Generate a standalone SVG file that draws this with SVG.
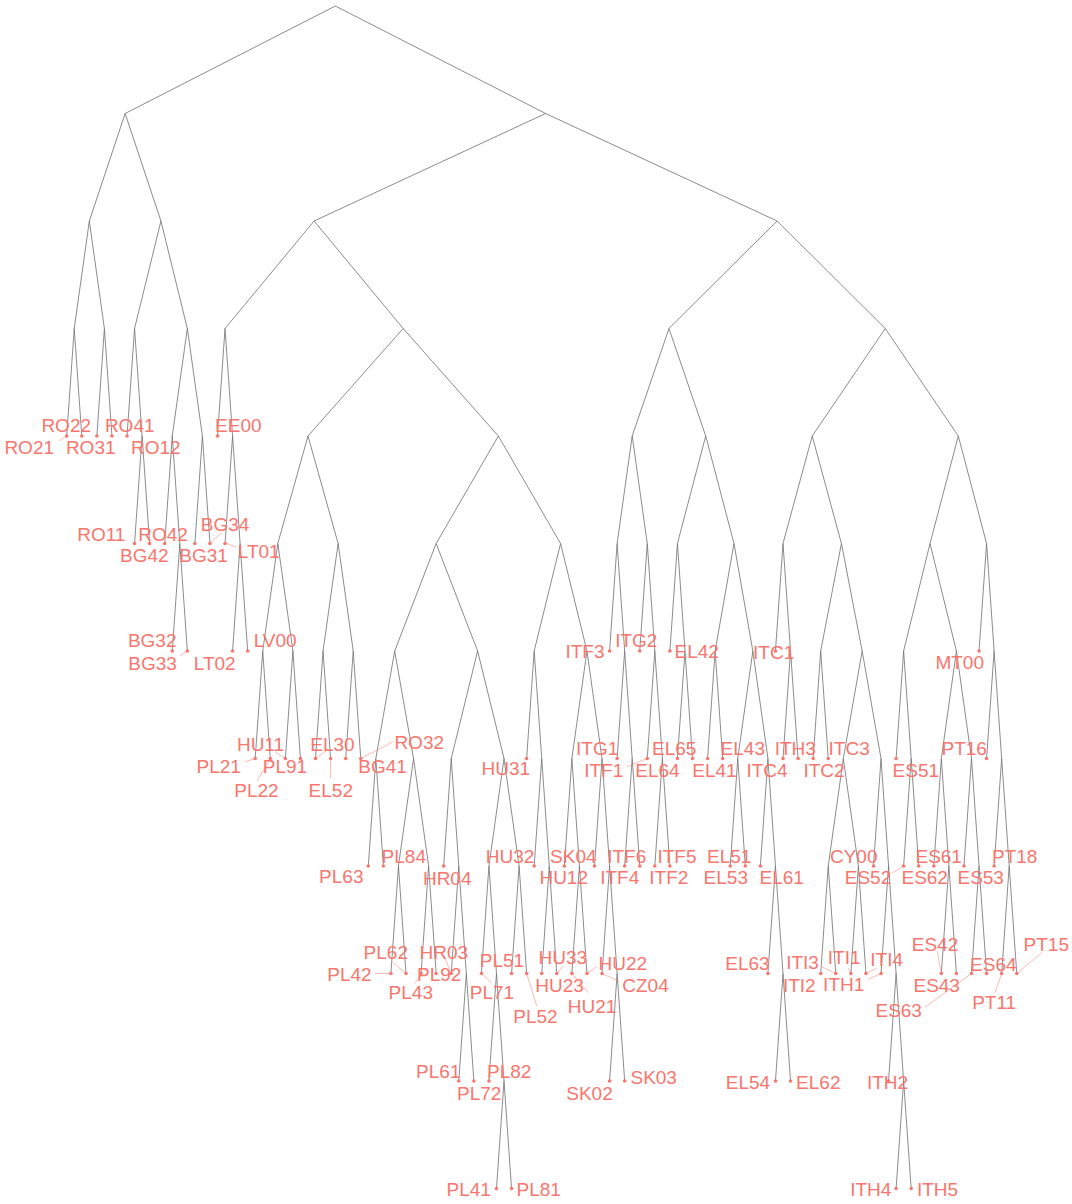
<svg xmlns="http://www.w3.org/2000/svg" width="1072" height="1204" viewBox="0 0 1072 1204">
<style>
.e{fill:none;stroke:#6e6e6e;stroke-width:0.8}
.d{fill:#F8766D}
.r{stroke:#F8766D;stroke-width:0.7;stroke-opacity:0.75;fill:none}
text{font-family:"Liberation Sans",Arial,sans-serif;font-size:19px;fill:#F8766D;text-anchor:middle}
</style>
<rect width="1072" height="1204" fill="#fff"/>
<g id="connectors">
<path class="e" d="M125.14 113.5L335.37 6L545.61 113.5"/>
<path class="e" d="M89.32 221L125.14 113.5L160.95 221"/>
<path class="e" d="M74.24 328.5L89.32 221L104.4 328.5"/>
<path class="e" d="M66.7 436L74.24 328.5L81.78 436"/>
<path class="e" d="M96.86 436L104.4 328.5L111.94 436"/>
<path class="e" d="M134.56 328.5L160.95 221L187.34 328.5"/>
<path class="e" d="M127.02 436L134.56 328.5L142.1 436"/>
<path class="e" d="M134.56 543.5L142.1 436L149.64 543.5"/>
<path class="e" d="M172.26 436L187.34 328.5L202.42 436"/>
<path class="e" d="M164.72 543.5L172.26 436L179.8 543.5"/>
<path class="e" d="M172.26 651L179.8 543.5L187.34 651"/>
<path class="e" d="M194.88 543.5L202.42 436L209.96 543.5"/>
<path class="e" d="M314.11 221L545.61 113.5L777.11 221"/>
<path class="e" d="M225.04 328.5L314.11 221L403.17 328.5"/>
<path class="e" d="M217.5 436L225.04 328.5L232.58 436"/>
<path class="e" d="M225.04 543.5L232.58 436L240.12 543.5"/>
<path class="e" d="M232.58 651L240.12 543.5L247.66 651"/>
<path class="e" d="M307.98 436L403.17 328.5L498.37 436"/>
<path class="e" d="M277.82 543.5L307.98 436L338.14 543.5"/>
<path class="e" d="M262.74 651L277.82 543.5L292.9 651"/>
<path class="e" d="M255.2 758.5L262.74 651L270.28 758.5"/>
<path class="e" d="M285.36 758.5L292.9 651L300.44 758.5"/>
<path class="e" d="M323.06 651L338.14 543.5L353.22 651"/>
<path class="e" d="M315.52 758.5L323.06 651L330.6 758.5"/>
<path class="e" d="M345.68 758.5L353.22 651L360.76 758.5"/>
<path class="e" d="M436.16 543.5L498.37 436L560.57 543.5"/>
<path class="e" d="M394.69 651L436.16 543.5L477.63 651"/>
<path class="e" d="M375.84 758.5L394.69 651L413.54 758.5"/>
<path class="e" d="M368.3 866L375.84 758.5L383.38 866"/>
<path class="e" d="M398.46 866L413.54 758.5L428.62 866"/>
<path class="e" d="M390.92 973.5L398.46 866L406 973.5"/>
<path class="e" d="M421.08 973.5L428.62 866L436.16 973.5"/>
<path class="e" d="M451.24 758.5L477.63 651L504.02 758.5"/>
<path class="e" d="M443.7 866L451.24 758.5L458.78 866"/>
<path class="e" d="M451.24 973.5L458.78 866L466.32 973.5"/>
<path class="e" d="M458.78 1081L466.32 973.5L473.86 1081"/>
<path class="e" d="M488.94 866L504.02 758.5L519.1 866"/>
<path class="e" d="M481.4 973.5L488.94 866L496.48 973.5"/>
<path class="e" d="M488.94 1081L496.48 973.5L504.02 1081"/>
<path class="e" d="M496.48 1188.5L504.02 1081L511.56 1188.5"/>
<path class="e" d="M511.56 973.5L519.1 866L526.64 973.5"/>
<path class="e" d="M534.18 651L560.57 543.5L586.96 651"/>
<path class="e" d="M526.64 758.5L534.18 651L541.72 758.5"/>
<path class="e" d="M534.18 866L541.72 758.5L549.26 866"/>
<path class="e" d="M541.72 973.5L549.26 866L556.8 973.5"/>
<path class="e" d="M571.88 758.5L586.96 651L602.04 758.5"/>
<path class="e" d="M564.34 866L571.88 758.5L579.42 866"/>
<path class="e" d="M571.88 973.5L579.42 866L586.96 973.5"/>
<path class="e" d="M594.5 866L602.04 758.5L609.58 866"/>
<path class="e" d="M602.04 973.5L609.58 866L617.12 973.5"/>
<path class="e" d="M609.58 1081L617.12 973.5L624.66 1081"/>
<path class="e" d="M668.96 328.5L777.11 221L885.26 328.5"/>
<path class="e" d="M632.2 436L668.96 328.5L705.72 436"/>
<path class="e" d="M617.12 543.5L632.2 436L647.28 543.5"/>
<path class="e" d="M609.58 651L617.12 543.5L624.66 651"/>
<path class="e" d="M617.12 758.5L624.66 651L632.2 758.5"/>
<path class="e" d="M624.66 866L632.2 758.5L639.74 866"/>
<path class="e" d="M639.74 651L647.28 543.5L654.82 651"/>
<path class="e" d="M647.28 758.5L654.82 651L662.36 758.5"/>
<path class="e" d="M654.82 866L662.36 758.5L669.9 866"/>
<path class="e" d="M677.44 543.5L705.72 436L733.99 543.5"/>
<path class="e" d="M669.9 651L677.44 543.5L684.98 651"/>
<path class="e" d="M677.44 758.5L684.98 651L692.52 758.5"/>
<path class="e" d="M715.14 651L733.99 543.5L752.84 651"/>
<path class="e" d="M707.6 758.5L715.14 651L722.68 758.5"/>
<path class="e" d="M737.76 758.5L752.84 651L767.92 758.5"/>
<path class="e" d="M730.22 866L737.76 758.5L745.3 866"/>
<path class="e" d="M760.38 866L767.92 758.5L775.46 866"/>
<path class="e" d="M767.92 973.5L775.46 866L783 973.5"/>
<path class="e" d="M775.46 1081L783 973.5L790.54 1081"/>
<path class="e" d="M812.22 436L885.26 328.5L958.31 436"/>
<path class="e" d="M783 543.5L812.22 436L841.44 543.5"/>
<path class="e" d="M775.46 651L783 543.5L790.54 651"/>
<path class="e" d="M783 758.5L790.54 651L798.08 758.5"/>
<path class="e" d="M820.7 651L841.44 543.5L862.17 651"/>
<path class="e" d="M813.16 758.5L820.7 651L828.24 758.5"/>
<path class="e" d="M843.32 758.5L862.17 651L881.02 758.5"/>
<path class="e" d="M828.24 866L843.32 758.5L858.4 866"/>
<path class="e" d="M820.7 973.5L828.24 866L835.78 973.5"/>
<path class="e" d="M850.86 973.5L858.4 866L865.94 973.5"/>
<path class="e" d="M873.48 866L881.02 758.5L888.56 866"/>
<path class="e" d="M881.02 973.5L888.56 866L896.1 973.5"/>
<path class="e" d="M888.56 1081L896.1 973.5L903.64 1081"/>
<path class="e" d="M896.1 1188.5L903.64 1081L911.18 1188.5"/>
<path class="e" d="M930.03 543.5L958.31 436L986.58 543.5"/>
<path class="e" d="M903.64 651L930.03 543.5L956.42 651"/>
<path class="e" d="M896.1 758.5L903.64 651L911.18 758.5"/>
<path class="e" d="M903.64 866L911.18 758.5L918.72 866"/>
<path class="e" d="M941.34 758.5L956.42 651L971.5 758.5"/>
<path class="e" d="M933.8 866L941.34 758.5L948.88 866"/>
<path class="e" d="M941.34 973.5L948.88 866L956.42 973.5"/>
<path class="e" d="M963.96 866L971.5 758.5L979.04 866"/>
<path class="e" d="M971.5 973.5L979.04 866L986.58 973.5"/>
<path class="e" d="M979.04 651L986.58 543.5L994.12 651"/>
<path class="e" d="M986.58 758.5L994.12 651L1001.66 758.5"/>
<path class="e" d="M994.12 866L1001.66 758.5L1009.2 866"/>
<path class="e" d="M1001.66 973.5L1009.2 866L1016.74 973.5"/>
</g>
<g id="RO21"><circle class="d" cx="66.7" cy="436" r="1.8"/><path class="r" d="M59.3 440.7L66.7 436"/><text x="29.2" y="453.8">RO21</text></g>
<g id="RO22"><circle class="d" cx="81.78" cy="436" r="1.8"/><text x="66.2" y="432.3">RO22</text></g>
<g id="RO31"><circle class="d" cx="96.86" cy="436" r="1.8"/><text x="90.7" y="453.8">RO31</text></g>
<g id="RO41"><circle class="d" cx="111.94" cy="436" r="1.8"/><text x="129.7" y="432.3">RO41</text></g>
<g id="RO12"><circle class="d" cx="127.02" cy="436" r="1.8"/><text x="155.8" y="453.8">RO12</text></g>
<g id="EE00"><circle class="d" cx="217.5" cy="436" r="1.8"/><text x="238.3" y="432.3">EE00</text></g>
<g id="RO11"><circle class="d" cx="134.56" cy="543.5" r="1.8"/><text x="101.3" y="540.5">RO11</text></g>
<g id="RO42"><circle class="d" cx="149.64" cy="543.5" r="1.8"/><text x="163" y="540.5">RO42</text></g>
<g id="BG42"><circle class="d" cx="164.72" cy="543.5" r="1.8"/><text x="144.3" y="562.3">BG42</text></g>
<g id="BG31"><circle class="d" cx="194.88" cy="543.5" r="1.8"/><text x="203.5" y="562.3">BG31</text></g>
<g id="BG34"><circle class="d" cx="209.96" cy="543.5" r="1.8"/><path class="r" d="M211 542L222 532.5"/><text x="225" y="530.5">BG34</text></g>
<g id="LT01"><circle class="d" cx="225.04" cy="543.5" r="1.8"/><path class="r" d="M226.5 543.5L236.7 547.3"/><text x="258.7" y="557.8">LT01</text></g>
<g id="BG32"><circle class="d" cx="172.26" cy="651" r="1.8"/><text x="152.2" y="647.1">BG32</text></g>
<g id="BG33"><circle class="d" cx="187.34" cy="651" r="1.8"/><path class="r" d="M180 655.7L187 651"/><text x="152.5" y="669.8">BG33</text></g>
<g id="LT02"><circle class="d" cx="232.58" cy="651" r="1.8"/><text x="214.7" y="669.8">LT02</text></g>
<g id="LV00"><circle class="d" cx="247.66" cy="651" r="1.8"/><text x="275.2" y="647.1">LV00</text></g>
<g id="PL21"><circle class="d" cx="255.2" cy="758.5" r="1.8"/><path class="r" d="M245 761.7L255.2 758.5"/><text x="218.7" y="772.8">PL21</text></g>
<g id="PL22"><circle class="d" cx="270.28" cy="758.5" r="1.8"/><path class="r" d="M257.3 780.7L270.28 758.5"/><text x="256.5" y="796.8">PL22</text></g>
<g id="HU11"><circle class="d" cx="285.36" cy="758.5" r="1.8"/><path class="r" d="M275 751.7L285.36 758.5"/><text x="260.5" y="750.6">HU11</text></g>
<g id="PL91"><circle class="d" cx="300.44" cy="758.5" r="1.8"/><text x="285" y="772.8">PL91</text></g>
<g id="EL30"><circle class="d" cx="315.52" cy="758.5" r="1.8"/><path class="r" d="M328.3 749.3L315.52 758.5"/><text x="332.5" y="750.6">EL30</text></g>
<g id="EL52"><circle class="d" cx="330.6" cy="758.5" r="1.8"/><path class="r" d="M330.6 760L330.6 778"/><text x="330.8" y="796.8">EL52</text></g>
<g id="BG41"><circle class="d" cx="345.68" cy="758.5" r="1.8"/><text x="382.5" y="772.8">BG41</text></g>
<g id="RO32"><circle class="d" cx="360.76" cy="758.5" r="1.8"/><path class="r" d="M393.3 741.7L360.76 758.5"/><text x="419.2" y="748.8">RO32</text></g>
<g id="PL63"><circle class="d" cx="368.3" cy="866" r="1.8"/><text x="341.3" y="883.1">PL63</text></g>
<g id="PL84"><circle class="d" cx="383.38" cy="866" r="1.8"/><text x="403.8" y="862.6">PL84</text></g>
<g id="PL42"><circle class="d" cx="390.92" cy="973.5" r="1.8"/><path class="r" d="M375 973.5L390.92 973.5"/><text x="349.5" y="981">PL42</text></g>
<g id="PL62"><circle class="d" cx="406" cy="973.5" r="1.8"/><path class="r" d="M393.3 962.7L406 973.5"/><text x="385.8" y="958.5">PL62</text></g>
<g id="PL43"><circle class="d" cx="421.08" cy="973.5" r="1.8"/><path class="r" d="M415 983.3L421.08 973.5"/><text x="410.8" y="999.3">PL43</text></g>
<g id="PL92"><circle class="d" cx="436.16" cy="973.5" r="1.8"/><text x="439.2" y="980.8">PL92</text></g>
<g id="HR04"><circle class="d" cx="443.7" cy="866" r="1.8"/><text x="447.2" y="885.3">HR04</text></g>
<g id="HR03"><circle class="d" cx="451.24" cy="973.5" r="1.8"/><path class="r" d="M445 958.3L451.24 973.5"/><text x="443.8" y="958.5">HR03</text></g>
<g id="PL61"><circle class="d" cx="458.78" cy="1081" r="1.8"/><text x="438.3" y="1077.6">PL61</text></g>
<g id="PL72"><circle class="d" cx="473.86" cy="1081" r="1.8"/><text x="479.2" y="1100.3">PL72</text></g>
<g id="PL71"><circle class="d" cx="481.4" cy="973.5" r="1.8"/><path class="r" d="M481.4 973.5L491.7 982.7"/><text x="492" y="999.3">PL71</text></g>
<g id="PL82"><circle class="d" cx="488.94" cy="1081" r="1.8"/><text x="509.2" y="1077.6">PL82</text></g>
<g id="PL41"><circle class="d" cx="496.48" cy="1188.5" r="1.8"/><text x="468.7" y="1196.3">PL41</text></g>
<g id="PL81"><circle class="d" cx="511.56" cy="1188.5" r="1.8"/><text x="538.7" y="1196.3">PL81</text></g>
<g id="PL51"><circle class="d" cx="511.56" cy="973.5" r="1.8"/><text x="502" y="966.8">PL51</text></g>
<g id="PL52"><circle class="d" cx="526.64" cy="973.5" r="1.8"/><path class="r" d="M526.64 973.5L536.7 1006"/><text x="535.5" y="1022.6">PL52</text></g>
<g id="HU31"><circle class="d" cx="526.64" cy="758.5" r="1.8"/><text x="505.8" y="774.8">HU31</text></g>
<g id="HU32"><circle class="d" cx="534.18" cy="866" r="1.8"/><text x="510" y="862.6">HU32</text></g>
<g id="HU23"><circle class="d" cx="541.72" cy="973.5" r="1.8"/><text x="559.5" y="991.8">HU23</text></g>
<g id="HU33"><circle class="d" cx="556.8" cy="973.5" r="1.8"/><path class="r" d="M563.3 966L556.8 973.5"/><text x="562.8" y="963.5">HU33</text></g>
<g id="HU12"><circle class="d" cx="564.34" cy="866" r="1.8"/><text x="563.7" y="884.3">HU12</text></g>
<g id="HU21"><circle class="d" cx="571.88" cy="973.5" r="1.8"/><path class="r" d="M571.88 973.5L588.3 992.7"/><text x="592" y="1012.8">HU21</text></g>
<g id="HU22"><circle class="d" cx="586.96" cy="973.5" r="1.8"/><path class="r" d="M596.7 966.7L586.96 973.5"/><text x="622.8" y="969.8">HU22</text></g>
<g id="SK04"><circle class="d" cx="594.5" cy="866" r="1.8"/><text x="573.3" y="862.6">SK04</text></g>
<g id="CZ04"><circle class="d" cx="602.04" cy="973.5" r="1.8"/><path class="r" d="M602.04 973.5L619.3 981.7"/><text x="645.5" y="991.8">CZ04</text></g>
<g id="SK02"><circle class="d" cx="609.58" cy="1081" r="1.8"/><text x="589.5" y="1100.3">SK02</text></g>
<g id="SK03"><circle class="d" cx="624.66" cy="1081" r="1.8"/><text x="653.7" y="1084.3">SK03</text></g>
<g id="ITF3"><circle class="d" cx="609.58" cy="651" r="1.8"/><text x="585" y="657.8">ITF3</text></g>
<g id="ITG1"><circle class="d" cx="617.12" cy="758.5" r="1.8"/><text x="597.2" y="755.3">ITG1</text></g>
<g id="ITF4"><circle class="d" cx="624.66" cy="866" r="1.8"/><text x="619.7" y="884.3">ITF4</text></g>
<g id="ITF6"><circle class="d" cx="639.74" cy="866" r="1.8"/><text x="626.7" y="862.6">ITF6</text></g>
<g id="ITG2"><circle class="d" cx="639.74" cy="651" r="1.8"/><text x="636.3" y="647.1">ITG2</text></g>
<g id="ITF1"><circle class="d" cx="647.28" cy="758.5" r="1.8"/><path class="r" d="M626.7 766.7L647.28 758.5"/><text x="603.7" y="776.8">ITF1</text></g>
<g id="ITF2"><circle class="d" cx="654.82" cy="866" r="1.8"/><text x="668.8" y="884.3">ITF2</text></g>
<g id="ITF5"><circle class="d" cx="669.9" cy="866" r="1.8"/><text x="677" y="862.6">ITF5</text></g>
<g id="EL42"><circle class="d" cx="669.9" cy="651" r="1.8"/><text x="696.7" y="658.3">EL42</text></g>
<g id="EL64"><circle class="d" cx="677.44" cy="758.5" r="1.8"/><text x="657.5" y="776.8">EL64</text></g>
<g id="EL65"><circle class="d" cx="692.52" cy="758.5" r="1.8"/><text x="674.2" y="754.8">EL65</text></g>
<g id="EL41"><circle class="d" cx="707.6" cy="758.5" r="1.8"/><text x="714.5" y="776.8">EL41</text></g>
<g id="EL43"><circle class="d" cx="722.68" cy="758.5" r="1.8"/><text x="742.8" y="755.1">EL43</text></g>
<g id="EL51"><circle class="d" cx="730.22" cy="866" r="1.8"/><text x="729.2" y="862.6">EL51</text></g>
<g id="EL53"><circle class="d" cx="745.3" cy="866" r="1.8"/><text x="725.8" y="884.3">EL53</text></g>
<g id="EL61"><circle class="d" cx="760.38" cy="866" r="1.8"/><text x="781.7" y="884.3">EL61</text></g>
<g id="EL63"><circle class="d" cx="767.92" cy="973.5" r="1.8"/><text x="747.5" y="969.8">EL63</text></g>
<g id="EL54"><circle class="d" cx="775.46" cy="1081" r="1.8"/><text x="748" y="1088.5">EL54</text></g>
<g id="EL62"><circle class="d" cx="790.54" cy="1081" r="1.8"/><text x="818.3" y="1088.5">EL62</text></g>
<g id="ITC1"><circle class="d" cx="775.46" cy="651" r="1.8"/><text x="773.7" y="658.8">ITC1</text></g>
<g id="ITC4"><circle class="d" cx="783" cy="758.5" r="1.8"/><text x="767" y="776.8">ITC4</text></g>
<g id="ITH3"><circle class="d" cx="798.08" cy="758.5" r="1.8"/><text x="795.3" y="755.1">ITH3</text></g>
<g id="ITC2"><circle class="d" cx="813.16" cy="758.5" r="1.8"/><text x="824" y="776.8">ITC2</text></g>
<g id="ITC3"><circle class="d" cx="828.24" cy="758.5" r="1.8"/><text x="849.2" y="755.1">ITC3</text></g>
<g id="ITI2"><circle class="d" cx="820.7" cy="973.5" r="1.8"/><text x="799.3" y="991.8">ITI2</text></g>
<g id="ITI3"><circle class="d" cx="835.78" cy="973.5" r="1.8"/><path class="r" d="M821.7 966.7L835.78 973.5"/><text x="802.5" y="969">ITI3</text></g>
<g id="ITI1"><circle class="d" cx="850.86" cy="973.5" r="1.8"/><path class="r" d="M848.3 968.3L850.86 973.5"/><text x="844.2" y="964.3">ITI1</text></g>
<g id="ITI4"><circle class="d" cx="865.94" cy="973.5" r="1.8"/><path class="r" d="M865.94 973.5L876.7 968.3"/><text x="886.7" y="965.8">ITI4</text></g>
<g id="CY00"><circle class="d" cx="873.48" cy="866" r="1.8"/><text x="853.7" y="862.6">CY00</text></g>
<g id="ITH1"><circle class="d" cx="881.02" cy="973.5" r="1.8"/><path class="r" d="M868.3 979.3L881.02 973.5"/><text x="843.7" y="990.8">ITH1</text></g>
<g id="ITH2"><circle class="d" cx="888.56" cy="1081" r="1.8"/><text x="887.5" y="1089.3">ITH2</text></g>
<g id="ITH4"><circle class="d" cx="896.1" cy="1188.5" r="1.8"/><text x="870.8" y="1196">ITH4</text></g>
<g id="ITH5"><circle class="d" cx="911.18" cy="1188.5" r="1.8"/><text x="937.5" y="1196">ITH5</text></g>
<g id="ES51"><circle class="d" cx="896.1" cy="758.5" r="1.8"/><text x="915.8" y="776.8">ES51</text></g>
<g id="ES52"><circle class="d" cx="903.64" cy="866" r="1.8"/><path class="r" d="M891.7 873.3L903.64 866"/><text x="868" y="884.3">ES52</text></g>
<g id="ES62"><circle class="d" cx="918.72" cy="866" r="1.8"/><text x="924.7" y="884.3">ES62</text></g>
<g id="ES61"><circle class="d" cx="933.8" cy="866" r="1.8"/><text x="938.7" y="862.6">ES61</text></g>
<g id="ES42"><circle class="d" cx="941.34" cy="973.5" r="1.8"/><path class="r" d="M937.3 951.7L941.34 973.5"/><text x="935" y="950.8">ES42</text></g>
<g id="ES43"><circle class="d" cx="956.42" cy="973.5" r="1.8"/><text x="936.7" y="991.8">ES43</text></g>
<g id="ES53"><circle class="d" cx="963.96" cy="866" r="1.8"/><text x="980.7" y="884.3">ES53</text></g>
<g id="ES63"><circle class="d" cx="971.5" cy="973.5" r="1.8"/><path class="r" d="M925 1007.3L971.5 973.5"/><text x="898.7" y="1016.8">ES63</text></g>
<g id="ES64"><circle class="d" cx="986.58" cy="973.5" r="1.8"/><text x="993.3" y="970.8">ES64</text></g>
<g id="MT00"><circle class="d" cx="979.04" cy="651" r="1.8"/><text x="959.7" y="669.3">MT00</text></g>
<g id="PT16"><circle class="d" cx="986.58" cy="758.5" r="1.8"/><text x="964.2" y="755.1">PT16</text></g>
<g id="PT18"><circle class="d" cx="994.12" cy="866" r="1.8"/><text x="1014.7" y="862.6">PT18</text></g>
<g id="PT11"><circle class="d" cx="1001.66" cy="973.5" r="1.8"/><path class="r" d="M995 992.7L1001.66 973.5"/><text x="994.2" y="1009.3">PT11</text></g>
<g id="PT15"><circle class="d" cx="1016.74" cy="973.5" r="1.8"/><path class="r" d="M1041.7 952.7L1016.74 973.5"/><text x="1046.3" y="950.8">PT15</text></g>
</svg>
